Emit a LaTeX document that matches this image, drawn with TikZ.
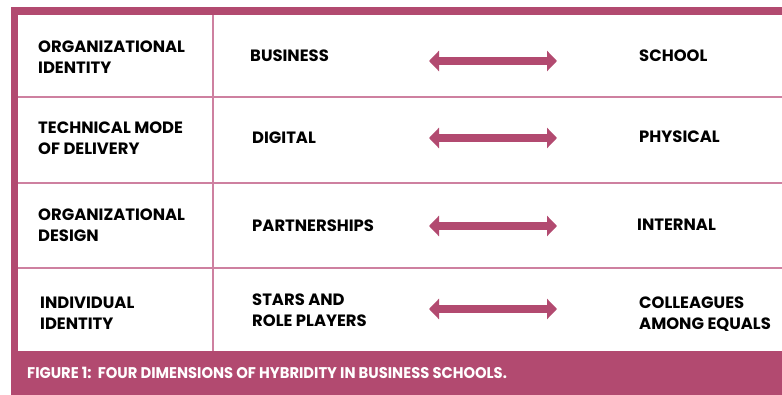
\documentclass[tikz,border=0pt]{standalone}
\usepackage{fontspec}
\setmainfont{Poppins}
\newfontfamily\capfont[FakeStretch=0.95]{Poppins}
\usetikzlibrary{arrows.meta}

\definecolor{hybrose}{RGB}{178,74,112}
\definecolor{hybline}{RGB}{206,128,160}

\tikzset{
  cell/.style={anchor=west,align=left,inner sep=0pt,
    font=\fontsize{16.4}{20.5}\selectfont\bfseries},
  grid/.style={hybline,line width=1.2pt},
  swing/.style={hybrose,line width=8pt,
    {Triangle[width=20pt,length=10pt]}-{Triangle[width=20pt,length=10pt]}}
}

\begin{document}
\begin{tikzpicture}[x=1pt,y=-1pt]
  \useasboundingbox (0,0) rectangle (782,395);

  % frame and caption band
  \fill[hybrose] (11,7) rectangle (782,15);
  \fill[hybrose] (11,7) rectangle (18,395);
  \fill[hybrose] (11,351) rectangle (782,395);

  % table rules
  \foreach \y in {97,183,268}
    \draw[grid] (18,\y) -- (782,\y);
  \draw[grid] (213,15) -- (213,351);

  % row 1
  \node[cell] (dim1) at (38,57) {ORGANIZATIONAL\\IDENTITY};
  \node[cell] (lo1) at (250,56) {BUSINESS};
  \node[cell] (hi1) at (639,56) {SCHOOL};
  \coordinate (a1) at (429,61);
  \coordinate (b1) at (557,61);
  \draw[swing] (a1) -- (b1);

  % row 2
  \node[cell] (dim2) at (38,138) {TECHNICAL MODE\\OF DELIVERY};
  \node[cell] (lo2) at (252,138) {DIGITAL};
  \node[cell] (hi2) at (639,137) {PHYSICAL};
  \coordinate (a2) at (429,138);
  \coordinate (b2) at (557,138);
  \draw[swing] (a2) -- (b2);

  % row 3
  \node[cell] (dim3) at (38,225) {ORGANIZATIONAL\\DESIGN};
  \node[cell] (lo3) at (252,226) {PARTNERSHIPS};
  \node[cell] (hi3) at (637,225) {INTERNAL};
  \coordinate (a3) at (429,226);
  \coordinate (b3) at (557,226);
  \draw[swing] (a3) -- (b3);

  % row 4
  \node[cell] (dim4) at (40,313) {INDIVIDUAL\\IDENTITY};
  \node[cell] (lo4) at (252,310) {STARS AND\\ROLE PLAYERS};
  \node[cell] (hi4) at (639,314) {COLLEAGUES\\AMONG EQUALS};
  \coordinate (a4) at (429,309);
  \coordinate (b4) at (557,309);
  \draw[swing] (a4) -- (b4);

  % caption
  \node[anchor=west,inner sep=0pt,text=white,
    font=\capfont\fontsize{15.5}{15.5}\selectfont\bfseries] (caption) at (27,373)
    {FIGURE 1:\ \ FOUR DIMENSIONS OF HYBRIDITY IN BUSINESS SCHOOLS.};
\end{tikzpicture}
\end{document}
